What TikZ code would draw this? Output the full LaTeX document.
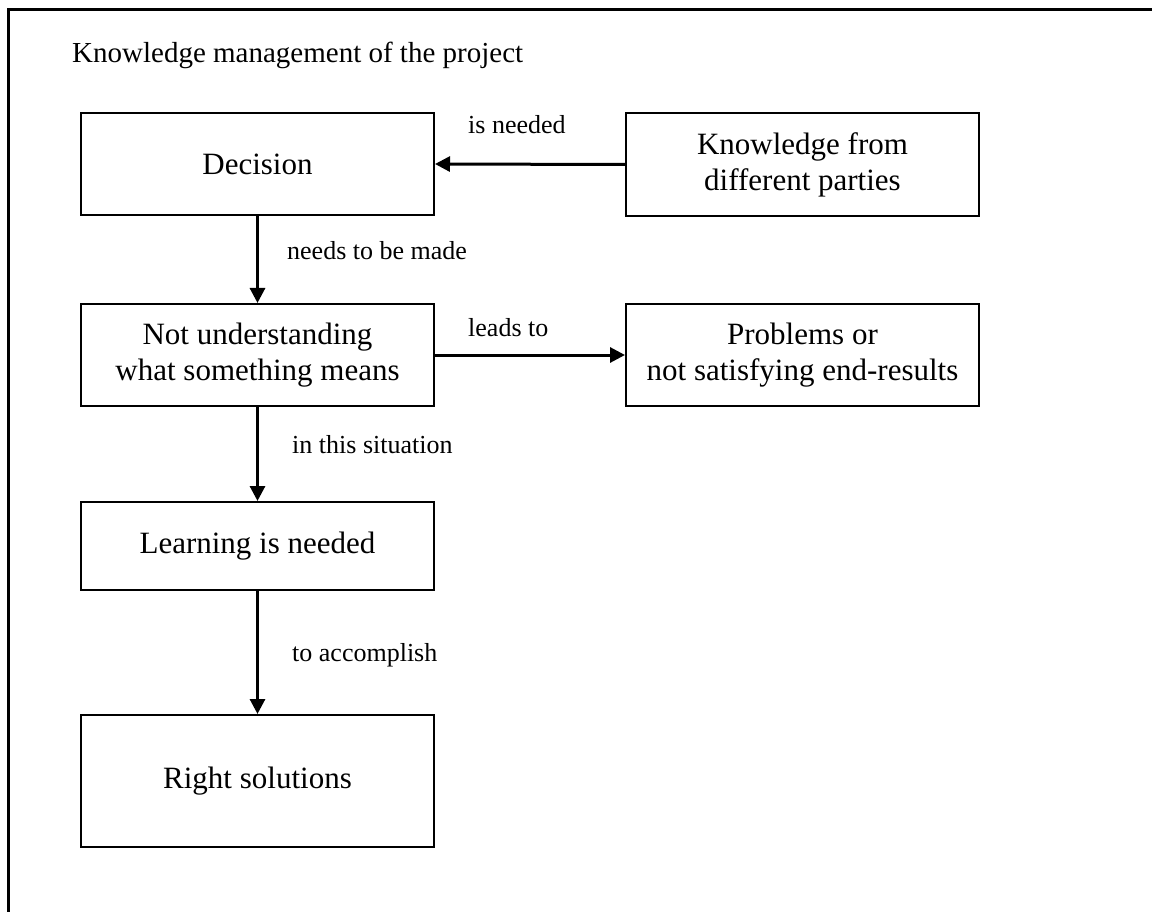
\documentclass[tikz,border=0pt]{standalone}
\usepackage{fontspec}
\setmainfont{Liberation Serif}
\usetikzlibrary{arrows.meta}
\begin{document}
\begin{tikzpicture}[x=1pt,y=-1pt,
  box/.style={draw,line width=2pt,rectangle,minimum width=353pt,align=center,
    inner sep=0pt,font=\fontsize{31}{36}\selectfont},
  conn/.style={line width=3pt,-{Triangle[length=15pt,width=15pt]}},
  lbl/.style={anchor=base west,inner sep=0pt,font=\fontsize{26}{30}\selectfont}]
\useasboundingbox (0,0) rectangle (1152,912);
% outer frame (runs off the right and bottom edges)
\draw[line width=3pt] (8,912) -- (8,10) -- (1152,10);
\node[anchor=base west,inner sep=0pt,font=\fontsize{29}{34}\selectfont] (title) at (72,63) {Knowledge management of the project};
% boxes
\node[box,minimum height=102pt] (dec) at (257.5,164) {Decision};
\node[box,minimum height=103pt] (know) at (802.5,164.5) {Knowledge from\\different parties};
\node[box,minimum height=102pt] (nu) at (257.5,355) {Not understanding\\what something means};
\node[box,minimum height=102pt] (prob) at (802.5,355) {Problems or\\not satisfying end-results};
\node[box,minimum height=88pt] (learn) at (257.5,546) {Learning is needed};
\node[box,minimum height=132pt] (sol) at (257.5,781) {Right solutions};
% connectors
\draw[conn] (know.west) -- (dec.east);
\draw[conn] (nu.east) -- (prob.west);
\draw[conn] (dec.south) -- (nu.north);
\draw[conn] (nu.south) -- (learn.north);
\draw[conn] (learn.south) -- (sol.north);
% connector labels
\node[lbl] (l1) at (468,134) {is needed};
\node[lbl] (l2) at (287,260) {needs to be made};
\node[lbl] (l3) at (468,337) {leads to};
\node[lbl] (l4) at (292,453) {in this situation};
\node[lbl] (l5) at (292,661) {to accomplish};
\end{tikzpicture}
\end{document}
